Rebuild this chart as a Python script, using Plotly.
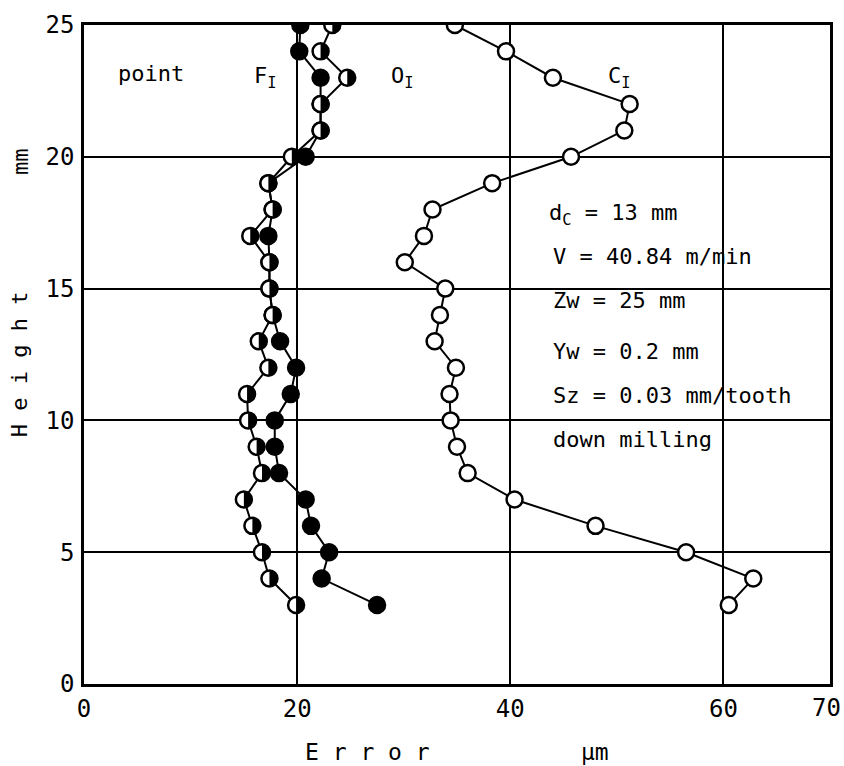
import plotly.graph_objects as go

# Height of the measuring point (mm)
heights = list(range(3, 26))

# Error (um) at each height, listed from 3 mm up to 25 mm
err_F = [27.5, 22.3, 23.0, 21.3, 20.8, 18.3, 17.9, 17.9, 19.4, 19.9, 18.4, 17.7,
         17.4, 17.4, 17.3, 17.7, 17.3, 20.8, 22.2, 22.2, 22.2, 20.2, 20.3]
err_O = [19.9, 17.4, 16.7, 15.8, 15.0, 16.7, 16.2, 15.4, 15.3, 17.3, 16.4, 17.7,
         17.4, 17.4, 15.6, 17.7, 17.3, 19.5, 22.2, 22.2, 24.7, 22.2, 23.3]
err_C = [60.5, 62.8, 56.5, 48.0, 40.4, 36.0, 35.0, 34.4, 34.3, 34.9, 32.9, 33.4,
         33.9, 30.1, 31.9, 32.7, 38.3, 45.7, 50.7, 51.2, 44.0, 39.6, 34.8]

x_ticks = [0, 20, 40, 60]
x_last_tick = 70
y_ticks = [0, 5, 10, 15, 20, 25]

params = ["d<sub>C</sub> = 13 mm", "V = 40.84 m/min", "Zw = 25 mm",
          "Yw = 0.2 mm", "Sz = 0.03 mm/tooth", "down milling"]

FONT = "DejaVu Sans Mono"
LINE = dict(color="black", width=2)
MSIZE = 16
MLINE = dict(color="black", width=2.5)

fig = go.Figure()

# connecting lines first, so that every marker sits on top of them
for ys in (err_F, err_O, err_C):
    fig.add_trace(go.Scatter(x=ys, y=heights, mode="lines", line=LINE,
                             hoverinfo="skip", showlegend=False))

# F_I : filled circles
fig.add_trace(go.Scatter(x=err_F, y=heights, mode="markers", showlegend=False,
                         marker=dict(symbol="circle", size=MSIZE, color="black", line=MLINE)))
# O_I : half-filled circles (white body, black right half added as shapes)
fig.add_trace(go.Scatter(x=err_O, y=heights, mode="markers", showlegend=False,
                         marker=dict(symbol="circle", size=MSIZE, color="white", line=MLINE)))
# C_I : open circles
fig.add_trace(go.Scatter(x=err_C, y=heights, mode="markers", showlegend=False,
                         marker=dict(symbol="circle", size=MSIZE, color="white", line=MLINE)))

# right half disc, in pixels around each O_I point
r = 7.5
k = 0.5523 * r
half_path = (f"M 0,{-r} C {k},{-r} {r},{-k} {r},0 "
             f"C {r},{k} {k},{r} 0,{r} Z")
shapes = []
for xv, yv in zip(err_O, heights):
    shapes.append(dict(type="path", xref="x", yref="y",
                       xsizemode="pixel", ysizemode="pixel",
                       xanchor=xv, yanchor=yv, path=half_path,
                       fillcolor="black", line=dict(width=0), layer="above"))

annotations = []


def label(text, x, y, size=22, xanchor="left", ref="x", **kw):
    annotations.append(dict(text=text, x=x, y=y,
                            xref="x" if ref == "x" else "paper",
                            yref="y" if ref == "x" else "paper",
                            xanchor=xanchor, yanchor="middle", showarrow=False,
                            font=dict(family=FONT, size=size, color="black"), **kw))


label("point", 3.0, 23.15)
label("F<sub>I</sub>", 15.8, 23.0)
label("O<sub>I</sub>", 28.6, 23.0)
label("C<sub>I</sub>", 49.0, 23.0)

param_y = [17.8, 16.2, 14.55, 12.63, 10.94, 9.29]
for i, (t, yv) in enumerate(zip(params, param_y)):
    label(t, 43.4 if i == 0 else 43.8, yv)

# last x tick label, kept inside the page
label(str(x_last_tick), 0.9947, -0.036, size=24, xanchor="center", ref="paper")

# axis titles
label("E r r o r", 0.3805, -0.1038, size=23, xanchor="center", ref="paper")
label("µm", 0.685, -0.1038, size=23, xanchor="center", ref="paper")
label("H e i g h t", -0.0854, 0.4857, size=22, xanchor="center", ref="paper",
      textangle=-90)
label("mm", -0.0854, 0.7925, size=22, xanchor="center", ref="paper", textangle=-90)

axis_common = dict(showgrid=True, gridcolor="black", gridwidth=1.5,
                   showline=True, linecolor="black", linewidth=2.5, mirror=True,
                   zeroline=False, ticks="",
                   tickfont=dict(family=FONT, size=24, color="black"))

fig.update_layout(
    width=844, height=766,
    margin=dict(l=84, r=11, t=19, b=82),
    paper_bgcolor="white", plot_bgcolor="white",
    xaxis=dict(range=[0, 70], tickvals=x_ticks, ticklabelstandoff=1, **axis_common),
    yaxis=dict(range=[0, 25], tickvals=y_ticks, ticklabelstandoff=2, **axis_common),
    shapes=shapes,
    annotations=annotations,
)

fig.write_html("out.html")
